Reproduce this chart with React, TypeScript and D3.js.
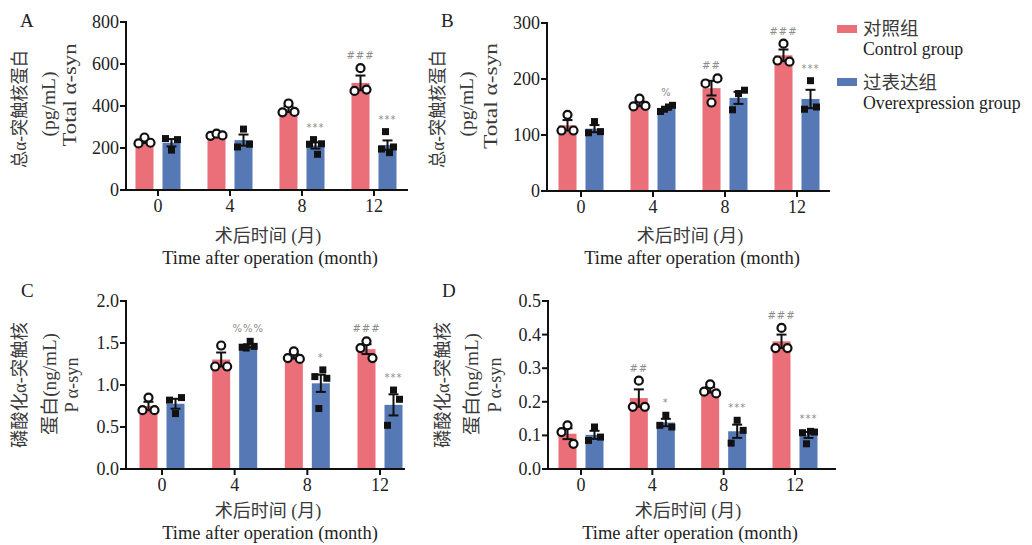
import React from "react";
import * as d3 from "d3";

const groups = ["0", "4", "8", "12"];

// Panel A: Total α-syn (pg/mL)
const aControl = [[222, 250, 225], [258, 268, 260], [370, 412, 372], [472, 580, 478]];
const aOver = [[245, 190, 240], [205, 290, 218], [218, 240, 170, 220], [195, 278, 178, 205]];
const aTicks = [0, 200, 400, 600, 800];
const aNotes = [
  { g: "8", s: 1, t: "***" },
  { g: "12", s: 0, t: "###" },
  { g: "12", s: 1, t: "***" },
];

// Panel B: Total α-syn (pg/mL)
const bControl = [[108, 136, 108], [151, 165, 152], [192, 158, 201], [233, 263, 231]];
const bOver = [[104, 124, 106], [142, 146, 150, 153], [145, 174, 180], [146, 197, 150]];
const bTicks = [0, 100, 200, 300];
const bNotes = [
  { g: "4", s: 1, t: "%" },
  { g: "8", s: 0, t: "##" },
  { g: "12", s: 0, t: "###" },
  { g: "12", s: 1, t: "***" },
];

// Panel C: P α-syn (ng/mL)
const cControl = [[0.7, 0.85, 0.7], [1.22, 1.47, 1.22], [1.32, 1.4, 1.31], [1.44, 1.52, 1.32]];
const cOver = [[0.82, 0.66, 0.85], [1.45, 1.44, 1.52, 1.46], [1.1, 0.72, 1.18, 1.08], [0.52, 0.94, 0.83]];
const cTicks = [0, 0.5, 1.0, 1.5, 2.0];
const cNotes = [
  { g: "4", s: 1, t: "%%%" },
  { g: "8", s: 1, t: "*" },
  { g: "12", s: 0, t: "###" },
  { g: "12", s: 1, t: "***" },
];

// Panel D: P α-syn (ng/mL)
const dControl = [[0.11, 0.13, 0.075], [0.185, 0.263, 0.185], [0.23, 0.252, 0.225], [0.36, 0.42, 0.36]];
const dOver = [[0.085, 0.125, 0.095], [0.13, 0.16, 0.125], [0.077, 0.145, 0.115], [0.108, 0.075, 0.112, 0.11]];
const dTicks = [0, 0.1, 0.2, 0.3, 0.4, 0.5];
const dNotes = [
  { g: "4", s: 0, t: "##" },
  { g: "4", s: 1, t: "*" },
  { g: "8", s: 1, t: "***" },
  { g: "12", s: 0, t: "###" },
  { g: "12", s: 1, t: "***" },
];

const legendLabels = [
  ["对照组", "Control group"],
  ["过表达组", "Overexpression group"],
];

const RED = "#EB6F78";
const BLUE = "#5679B5";
const SERIF = "'Liberation Serif', 'Times New Roman', 'Noto Sans CJK SC', serif";
const CJK = "'Liberation Serif', 'Noto Sans CJK SC', serif";

const sem = (a: number[]) => (d3.deviation(a) || 0) / Math.sqrt(a.length);

type PanelCfg = {
  letter: string;
  lx: number;
  ly: number;
  control: number[][];
  over: number[][];
  ticks: number[];
  fmt: (v: number) => string;
  notes: { g: string; s: number; t: string }[];
  axisX: number;
  axisEnd: number;
  c0: number;
  c3: number;
  yTop: number;
  yBot: number;
  ylab: { text: string; x: number; y: number; len: number }[];
  xTitleX: number;
  xTitleY: number;
};

function Panel({ cfg }: { cfg: PanelCfg }) {
  const x = d3.scalePoint<string>().domain(groups).range([cfg.c0, cfg.c3]);
  const y = d3
    .scaleLinear()
    .domain([0, cfg.ticks[cfg.ticks.length - 1]])
    .range([cfg.yBot, cfg.yTop]);
  const bw = 18;
  const off = 13.5;
  const series = [cfg.control, cfg.over];
  const colors = [RED, BLUE];

  const topOf = (gi: number, s: number) => {
    const arr = series[s][gi];
    const m = d3.mean(arr)!;
    const hi = Math.max(d3.max(arr)!, m + sem(arr));
    return y(hi);
  };

  return (
    <g>
      <text x={cfg.lx} y={cfg.ly} fontFamily={SERIF} fontSize={19} fill="#222">
        {cfg.letter}
      </text>
      {cfg.ylab.map((l, i) => (
        <text
          key={i}
          transform={`translate(${l.x},${l.y}) rotate(-90)`}
          textAnchor="middle"
          dominantBaseline="central"
          fontFamily={CJK}
          fontSize={18}
          fill="#3a3a3a"
          textLength={l.len}
          lengthAdjust="spacingAndGlyphs"
        >
          {l.text}
        </text>
      ))}
      {/* bars */}
      {series.map((ser, s) =>
        ser.map((arr, gi) => {
          const cx = x(groups[gi])! + (s === 0 ? -off : off);
          const m = d3.mean(arr)!;
          return (
            <rect
              key={`b${s}${gi}`}
              x={cx - bw / 2}
              y={y(m)}
              width={bw}
              height={y(0) - y(m)}
              fill={colors[s]}
            />
          );
        })
      )}
      {/* error bars */}
      {series.map((ser, s) =>
        ser.map((arr, gi) => {
          const cx = x(groups[gi])! + (s === 0 ? -off : off);
          const m = d3.mean(arr)!;
          const e = sem(arr);
          return (
            <g key={`e${s}${gi}`} stroke="#111" strokeWidth={2}>
              <line x1={cx} x2={cx} y1={y(m - e)} y2={y(m + e)} />
              <line x1={cx - 5} x2={cx + 5} y1={y(m + e)} y2={y(m + e)} />
              <line x1={cx - 5} x2={cx + 5} y1={y(m - e)} y2={y(m - e)} />
            </g>
          );
        })
      )}
      {/* points */}
      {series.map((ser, s) =>
        ser.map((arr, gi) => {
          const cx = x(groups[gi])! + (s === 0 ? -off : off);
          const n = arr.length;
          return arr.map((v, k) => {
            const px = cx + (n === 1 ? 0 : -6 + (12 * k) / (n - 1));
            return s === 0 ? (
              <circle
                key={`p${s}${gi}${k}`}
                cx={px}
                cy={y(v)}
                r={4}
                fill="#fff"
                stroke="#111"
                strokeWidth={2.2}
              />
            ) : (
              <rect
                key={`p${s}${gi}${k}`}
                x={px - 3.5}
                y={y(v) - 3.5}
                width={7}
                height={7}
                fill="#111"
              />
            );
          });
        })
      )}
      {/* annotations */}
      {cfg.notes.map((n, i) => {
        const gi = groups.indexOf(n.g);
        const cx = x(n.g)! + (n.s === 0 ? -off : off);
        return (
          <text
            key={`n${i}`}
            x={cx}
            y={topOf(gi, n.s) - 9}
            textAnchor="middle"
            fontFamily="'DejaVu Sans', sans-serif"
            fontSize={10}
            fill="#8c8c8c"
            letterSpacing={1}
          >
            {n.t}
          </text>
        );
      })}
      {/* y axis */}
      <line x1={cfg.axisX} x2={cfg.axisX} y1={cfg.yTop - 1} y2={cfg.yBot + 1} stroke="#111" strokeWidth={2} />
      {cfg.ticks.map((t) => (
        <g key={`yt${t}`}>
          <line x1={cfg.axisX - 6} x2={cfg.axisX} y1={y(t)} y2={y(t)} stroke="#111" strokeWidth={2} />
          <text
            x={cfg.axisX - 7}
            y={y(t)}
            textAnchor="end"
            dominantBaseline="central"
            fontFamily={SERIF}
            fontSize={18}
            fill="#222"
          >
            {cfg.fmt(t)}
          </text>
        </g>
      ))}
      {/* x axis */}
      <line x1={cfg.axisX - 1} x2={cfg.axisEnd} y1={cfg.yBot} y2={cfg.yBot} stroke="#111" strokeWidth={2} />
      {groups.map((g) => (
        <g key={`xt${g}`}>
          <line x1={x(g)} x2={x(g)} y1={cfg.yBot} y2={cfg.yBot + 6} stroke="#111" strokeWidth={2} />
          <text
            x={x(g)}
            y={cfg.yBot + 22}
            textAnchor="middle"
            fontFamily={SERIF}
            fontSize={18}
            fill="#222"
          >
            {g}
          </text>
        </g>
      ))}
      <text
        x={cfg.xTitleX}
        y={cfg.xTitleY}
        textAnchor="middle"
        fontFamily={CJK}
        fontSize={18}
        fill="#3a3a3a"
      >
        术后时间 (月)
      </text>
      <text
        x={cfg.xTitleX + 2}
        y={cfg.xTitleY + 22}
        textAnchor="middle"
        fontFamily={SERIF}
        fontSize={18.5}
        fill="#222"
      >
        Time after operation (month)
      </text>
    </g>
  );
}

const intFmt = d3.format("d");
const f1 = d3.format(".1f");

const panels: PanelCfg[] = [
  {
    letter: "A", lx: 20, ly: 27,
    control: aControl, over: aOver, ticks: aTicks, fmt: intFmt, notes: aNotes,
    axisX: 126, axisEnd: 408, c0: 158, c3: 374, yTop: 22, yBot: 190,
    ylab: [
      { text: "总α-突触核蛋白", x: 20, y: 109, len: 118 },
      { text: "(pg/mL)", x: 49, y: 104, len: 65 },
      { text: "Total α-syn", x: 70, y: 95, len: 103 },
    ],
    xTitleX: 268, xTitleY: 242,
  },
  {
    letter: "B", lx: 441, ly: 27,
    control: bControl, over: bOver, ticks: bTicks, fmt: intFmt, notes: bNotes,
    axisX: 547, axisEnd: 830, c0: 581, c3: 797, yTop: 23, yBot: 191,
    ylab: [
      { text: "总α-突触核蛋白", x: 438, y: 109, len: 118 },
      { text: "(pg/mL)", x: 467, y: 104, len: 65 },
      { text: "Total α-syn", x: 491, y: 96, len: 106 },
    ],
    xTitleX: 690, xTitleY: 242,
  },
  {
    letter: "C", lx: 21, ly: 297,
    control: cControl, over: cOver, ticks: cTicks, fmt: f1, notes: cNotes,
    axisX: 126, axisEnd: 405, c0: 162, c3: 380, yTop: 301, yBot: 469,
    ylab: [
      { text: "磷酸化α-突触核", x: 20, y: 385, len: 126 },
      { text: "蛋白(ng/mL)", x: 50, y: 384, len: 102 },
      { text: "P α-syn", x: 72, y: 385, len: 55 },
    ],
    xTitleX: 268, xTitleY: 517,
  },
  {
    letter: "D", lx: 442, ly: 297,
    control: dControl, over: dOver, ticks: dTicks, fmt: f1, notes: dNotes,
    axisX: 548, axisEnd: 836, c0: 581, c3: 795, yTop: 301, yBot: 469,
    ylab: [
      { text: "磷酸化α-突触核", x: 443, y: 385, len: 126 },
      { text: "蛋白(ng/mL)", x: 472, y: 384, len: 102 },
      { text: "P α-syn", x: 495, y: 385, len: 55 },
    ],
    xTitleX: 688, xTitleY: 517,
  },
];

export default function App() {
  return (
    <svg
      width={1032}
      height={545}
      viewBox="0 0 1032 545"
      style={{ position: "absolute", left: 0, top: 0, background: "#fff" }}
    >
      <rect width={1032} height={545} fill="#fff" />
      {panels.map((p) => (
        <Panel key={p.letter} cfg={p} />
      ))}
      {legendLabels.map((l, i) => (
        <g key={i}>
          <rect x={837} y={25 + i * 53} width={20} height={8} fill={i === 0 ? RED : BLUE} />
          <text x={863} y={35 + i * 54} fontFamily={CJK} fontSize={18.5} fill="#3a3a3a">
            {l[0]}
          </text>
          <text x={863} y={55 + i * 54} fontFamily={SERIF} fontSize={17.8} fill="#222">
            {l[1]}
          </text>
        </g>
      ))}
    </svg>
  );
}
